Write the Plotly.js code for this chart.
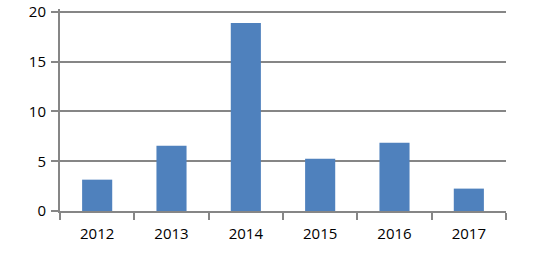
<!DOCTYPE html>
<html>
<head>
<meta charset="utf-8">
<script src="https://cdn.plot.ly/plotly-3.0.1.min.js"></script>
<style>html,body{margin:0;padding:0;background:#fff;}#chart{width:533px;height:256px;}</style>
</head>
<body>
<div id="chart"></div>
<script>
const years = ['2012', '2013', '2014', '2015', '2016', '2017'];
const values = [3.15, 6.55, 18.9, 5.25, 6.85, 2.25];
const yTicks = [0, 5, 10, 15, 20];

const grey = '#868686';
Plotly.newPlot('chart', [{
  type: 'bar',
  x: years,
  y: values,
  marker: {color: '#4F81BD', line: {width: 0}},
  hoverinfo: 'none'
}], {
  width: 533, height: 256,
  margin: {l: 60, r: 27, t: 8.5, b: 44.5},
  paper_bgcolor: '#fff', plot_bgcolor: '#fff',
  bargap: 0.595,
  showlegend: false,
  font: {family: 'Open Sans, sans-serif', size: 15, color: '#000'},
  xaxis: {
    type: 'category',
    showline: true, linecolor: grey, linewidth: 2,
    ticks: 'outside', tickson: 'boundaries', ticklen: 7, tickcolor: grey, tickwidth: 2,
    showgrid: false, zeroline: false,
    ticklabelstandoff: 8,
    tickfont: {size: 15}
  },
  yaxis: {
    range: [0, 20.3], tickvals: yTicks, ticktext: yTicks.map(String),
    showline: true, linecolor: grey, linewidth: 2,
    ticks: 'outside', ticklen: 7, tickcolor: grey, tickwidth: 2,
    showgrid: true, gridcolor: grey, gridwidth: 2,
    zeroline: false,
    ticklabelstandoff: 2,
    tickfont: {size: 15}
  }
}, {displayModeBar: false, staticPlot: true});
</script>
</body>
</html>
